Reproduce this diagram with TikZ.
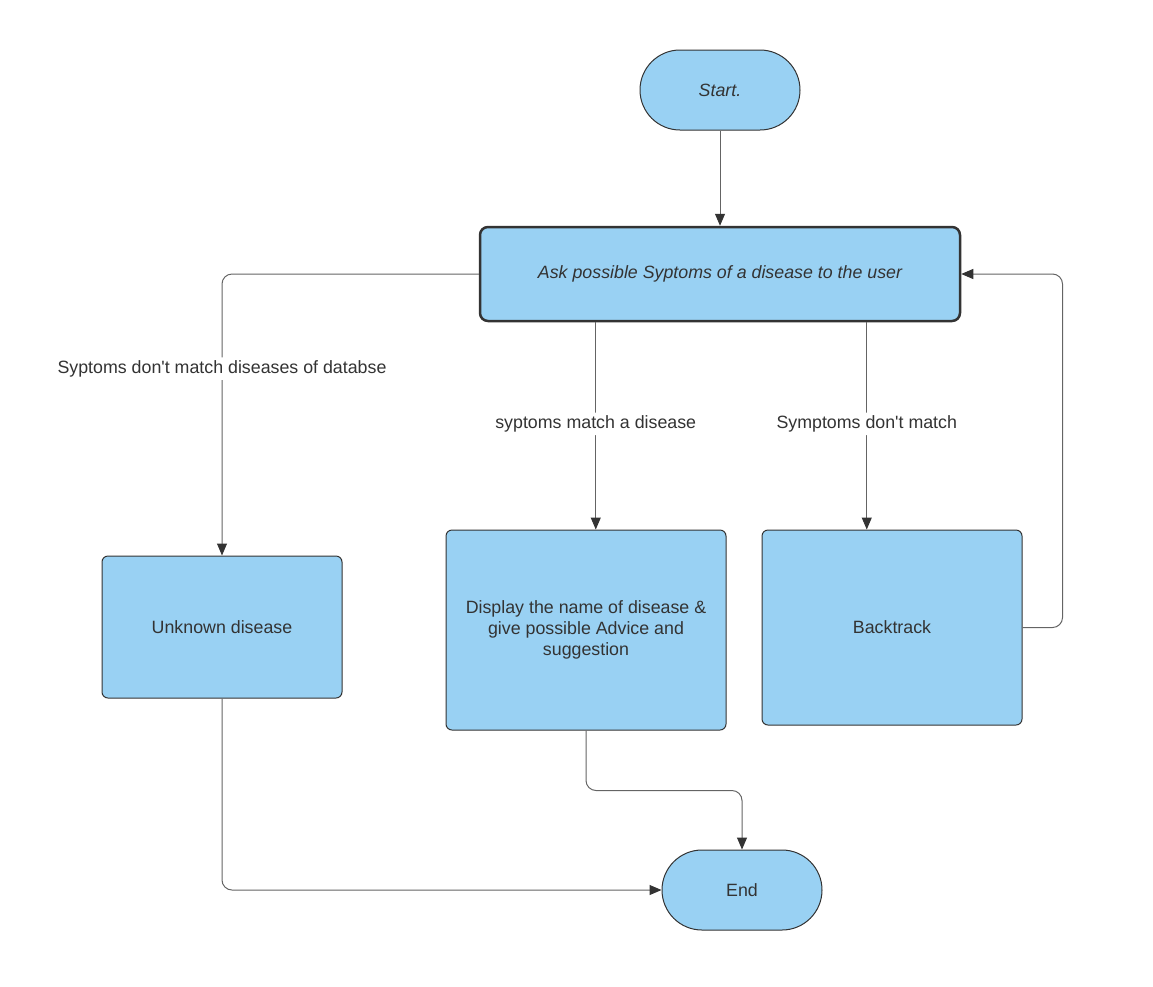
\documentclass[tikz,border=0pt]{standalone}
\usepackage{fontspec}
\setmainfont{Liberation Sans}
\usetikzlibrary{arrows.meta,calc}
\definecolor{boxfill}{RGB}{153,209,243}
\definecolor{txt}{RGB}{51,51,51}
\definecolor{edge}{RGB}{51,51,51}
\definecolor{wire}{RGB}{100,100,100}
\tikzset{
  base/.style={draw=edge, fill=boxfill, line width=1pt, text=txt, align=center,
    font=\fontsize{17.8}{21.3}\selectfont},
  terminal/.style={base, rounded corners=40pt, minimum width=160pt, minimum height=80pt},
  procbox/.style={base, rounded corners=6pt},
  conn/.style={draw=wire, line width=1pt, rounded corners=10pt,
    -{Triangle[length=12pt,width=10pt,fill=edge,color=edge]}},
  lbl/.style={fill=white, text=txt, inner sep=3pt, font=\fontsize{17.8}{21.3}\selectfont}
}
\begin{document}
\begin{tikzpicture}[x=1pt,y=-1pt]
\useasboundingbox (0,0) rectangle (1153,986);
\node[terminal] (start) at (720,90) {\itshape Start.};
\node[procbox, line width=2.5pt, rounded corners=8pt, minimum width=480pt, minimum height=94pt] (ask) at (720,274) {\itshape Ask possible Syptoms of a disease to the user};
\node[procbox, minimum width=240pt, minimum height=142pt] (unk) at (222,627) {Unknown disease};
\node[procbox, minimum width=280pt, minimum height=200pt] (disp) at (586,630) {Display the name of disease \&\\give possible Advice and\\suggestion};
\node[procbox, minimum width=260pt, minimum height=195pt] (back) at (892,627.5) {Backtrack};
\node[terminal] (endn) at (742,890) {End};

\coordinate (askA) at ([xshift=117pt]ask.south west);
\coordinate (askB) at ([xshift=388pt]ask.south west);

\draw[conn] (start.south) -- (ask.north);
\draw[conn] (ask.west) -| node[lbl, pos=0.668] {Syptoms don\textquotesingle t match diseases of databse} (unk.north);
\draw[conn] (askA) -- node[lbl, pos=0.49] {syptoms match a disease} (askA |- disp.north);
\draw[conn] (askB) -- node[lbl, pos=0.49] {Symptoms don\textquotesingle t match} (askB |- back.north);
\draw[conn] (back.east) -- ++(40,0) |- (ask.east);
\draw[conn] (disp.south) -- ++(0,60) -| (endn.north);
\draw[conn] (unk.south) |- (endn.west);
\end{tikzpicture}
\end{document}
